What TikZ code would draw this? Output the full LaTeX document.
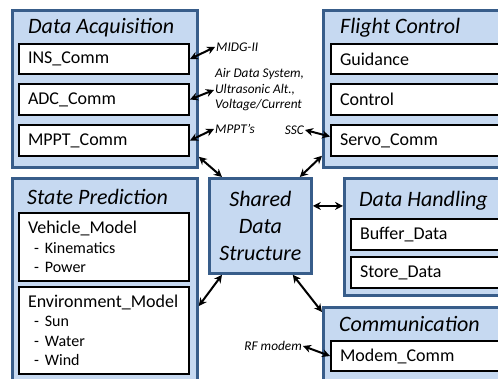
\documentclass[tikz,border=0pt]{standalone}
\usepackage{fontspec}
\setmainfont{Carlito}
\usetikzlibrary{arrows.meta}
\definecolor{grpfill}{HTML}{C6D9F1}
\definecolor{grpline}{HTML}{385D8A}
\newcommand{\bulletline}[1]{{\fontsize{16}{19.5}\selectfont\hspace*{6pt}- #1}}
\begin{document}
\begin{tikzpicture}[x=1pt,y=-1pt,
  group/.style={draw=grpline, fill=grpfill, line width=2.8pt, anchor=north west, inner sep=0pt},
  item/.style={draw=black, fill=white, line width=2pt, anchor=north west, inner xsep=9pt, inner ysep=0pt,
    align=left, font=\fontsize{18}{19.5}\selectfont},
  ttl/.style={anchor=west, inner sep=0pt, font=\fontsize{22}{26}\selectfont\itshape},
  lbl/.style={inner sep=1pt, align=left, font=\fontsize{13.3}{15.5}\selectfont\itshape},
  link/.style={{Stealth[length=8pt,width=8pt]}-{Stealth[length=8pt,width=8pt]}, line width=2pt}
]
\useasboundingbox (0,0) rectangle (498,379);
\clip (0,0) rectangle (498,379);

% groups
\node[group, minimum width=185, minimum height=157] (da) at (11,9) {};
\node[group, minimum width=190, minimum height=157] (fc) at (322,9) {};
\node[group, minimum width=185, minimum height=215] (sp) at (11,177) {};
\node[group, minimum width=102, minimum height=95, align=center,
      font=\fontsize{22}{27}\selectfont\itshape] (sds) at (208,177) {Shared\\Data\\Structure};
\node[group, minimum width=180, minimum height=117] (dh) at (343,177) {};
\node[group, minimum width=190, minimum height=100] (cm) at (322,306) {};

% titles
\node[ttl] (datitle) at (28,28) {Data Acquisition};
\node[ttl] (fctitle) at (340,28) {Flight Control};
\node[ttl] (sptitle) at (27,197) {State Prediction};
\node[ttl] (dhtitle) at (359,201) {Data Handling};
\node[ttl] (cmtitle) at (339,324) {Communication};

% items
\node[item, text width=152, minimum height=30] (ins) at (18,43) {INS\_Comm};
\node[item, text width=152, minimum height=31] (adc) at (18,83) {ADC\_Comm};
\node[item, text width=152, minimum height=31] (mppt) at (18,124) {MPPT\_Comm};
\node[item, text width=157, minimum height=30] (guid) at (330,43) {Guidance};
\node[item, text width=157, minimum height=31] (ctrl) at (330,83) {Control};
\node[item, text width=157, minimum height=31] (servo) at (330,124) {Servo\_Comm};
\node[item, text width=152, minimum height=68] (vm) at (18,212)
  {Vehicle\_Model\\\bulletline{Kinematics}\\\bulletline{Power}};
\node[item, text width=152, minimum height=87] (em) at (18,286)
  {Environment\_Model\\\bulletline{Sun}\\\bulletline{Water}\\\bulletline{Wind}};
\node[item, text width=157, minimum height=31] (buf) at (350,218) {Buffer\_Data};
\node[item, text width=157, minimum height=31] (store) at (350,256) {Store\_Data};
\node[item, text width=157, minimum height=30] (modem) at (330,340) {Modem\_Comm};

% labels
\node[lbl, anchor=west] (midg) at (215,47) {MIDG-II};
\node[lbl, anchor=west] (adcl) at (214,90) {Air Data System,\\Ultrasonic Alt.,\\Voltage/Current};
\node[lbl, anchor=west] (mpptl) at (214,129) {MPPT’s};
\node[lbl, anchor=east] (ssc) at (305,130) {SSC};
\node[lbl, anchor=east] (rf) at (303,346) {RF modem};

% connectors
\draw[link] (ins.east) -- (midg.west);
\draw[link] (adc.east) -- (adcl.west);
\draw[link] (mppt.east) -- (mpptl.west);
\draw[link] (ssc.east) -- ([yshift=4pt]servo.west);
\draw[link] ([yshift=12pt]da.south east) -- ([xshift=14pt]sds.north west);
\draw[link] ([yshift=13pt]fc.south west) -- ([xshift=-13pt]sds.north east);
\draw[link] ([yshift=-129pt]sp.north east) -- ([xshift=14pt]sds.south west);
\coordinate (p) at ([yshift=20pt]sds.east);
\draw[link] (p) -- (p -| dh.west);
\draw[link] ([xshift=-20pt]sds.south east) -- ([yshift=-6pt]cm.north west);
\draw[link] (rf.east) -- (modem.west);
\end{tikzpicture}
\end{document}
